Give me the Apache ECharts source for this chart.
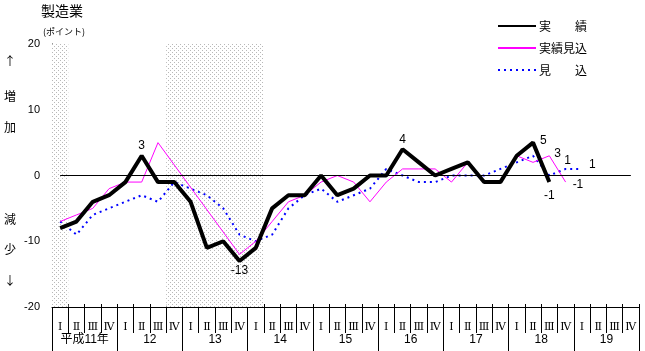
<!DOCTYPE html>
<html><head><meta charset="utf-8">
<script src="https://cdn.jsdelivr.net/npm/echarts@6/dist/echarts.min.js"></script>
<style>html,body{margin:0;padding:0;background:#fff}#c{width:645px;height:351px}</style>
</head><body><div id="c"></div>
<script>
// ---- data ----
const yearLabels = ['平成11年','12','13','14','15','16','17','18','19'];
const quarterLabels = ['Ⅰ','Ⅱ','Ⅲ','Ⅳ'];
const seriesNames = ['実　　績','実績見込','見　　込'];
const actual   = [-8,-7,-4,-3,-1,3,-1,-1,-4,-11,-10,-13,-11,-5,-3,-3,0,-3,-2,0,0,4,2,0,1,2,-1,-1,3,5,-1];
const estimate = [-7,-6,-5,-2,-1,-1,5,null,null,null,null,-12,-10,-7,-4,-3,-1,0,-1,-4,-1,1,1,1,-1,2,-1,-1,3,2,3,-1];
const forecast = [-7,-9,-6,-5,-4,-3,-4,-1,-2,-3,-5,-9,-10,-9,-5,-3,-2,-4,-3,-2,1,0,-1,-1,0,0,0,1,2,3,0,1,1];
const shadedRanges = [[0,1],[7,13]]; // in quarter units from start
const labelledActual = [5,11,21,29,30];
const labelledEstimate = [30,31];
const labelledForecast = [31,32];

// ---- styles ----
const labelPos = {
  actual:   {5:{position:'top',distance:4},11:{position:'bottom',distance:4},21:{position:'top',distance:4},29:{position:'right',offset:[2,-2]},30:{position:'bottom',distance:8}},
  estimate: {30:{position:'right',offset:[0,-2]},31:{position:'right',offset:[2,3]}},
  forecast: {31:{position:'top',distance:3,offset:[2,1]},32:{position:'right',offset:[2,-4]}}
};
const FONT = '"Liberation Sans","Noto Sans CJK JP",sans-serif';
function withLabels(arr, idxs, pos){
  return arr.map((v,i)=> idxs.includes(i) ? {value:v, label:Object.assign({show:true,color:'#000',fontSize:12,fontFamily:FONT}, pos[i])} : v);
}
const quarterCats = [];
yearLabels.forEach(()=>quarterLabels.forEach(q=>quarterCats.push(q)));

// dotted pattern for shading
const pc = document.createElement('canvas'); pc.width=4; pc.height=4;
const pctx = pc.getContext('2d');
pctx.fillStyle='#ffffff'; pctx.fillRect(0,0,4,4);
pctx.fillStyle='#b8b8b8'; pctx.fillRect(0,0,1,1); pctx.fillRect(2,2,1,1);

const chart = echarts.init(document.getElementById('c'), null, {renderer:'canvas'});
const lineCommon = {type:'line',xAxisIndex:0,symbol:'circle',symbolSize:0,showSymbol:true,showAllSymbol:true};
chart.setOption({
  animation:false,
  textStyle:{fontFamily:FONT,color:'#000'},
  grid:{left:52,right:6,top:44,bottom:44,containLabel:false},
  legend:{
    orient:'vertical', left:497, top:19, padding:0, itemWidth:38, itemHeight:14, itemGap:8,
    itemStyle:{opacity:0},
    textStyle:{fontSize:12,color:'#000',fontFamily:'"Noto Sans CJK JP"',lineHeight:14,padding:[0,0,0,-2]},
    data:[seriesNames[0],seriesNames[1],seriesNames[2]]
  },
  graphic:[
    {type:'text',left:41,top:4,style:{text:'製造業',font:'14px "Noto Sans CJK JP"',fill:'#000'}},
    {type:'text',left:43,top:27,style:{text:'(ポイント)',font:'9px "Noto Sans CJK JP"',fill:'#000'}},
    {type:'text',left:4,top:55,style:{text:'↑',font:'12px "Noto Sans CJK JP"',fill:'#000'}},
    {type:'text',left:4,top:90,style:{text:'増',font:'12px "Noto Sans CJK JP"',fill:'#000'}},
    {type:'text',left:4,top:121,style:{text:'加',font:'12px "Noto Sans CJK JP"',fill:'#000'}},
    {type:'text',left:4,top:213,style:{text:'減',font:'12px "Noto Sans CJK JP"',fill:'#000'}},
    {type:'text',left:4,top:243,style:{text:'少',font:'12px "Noto Sans CJK JP"',fill:'#000'}},
    {type:'text',left:4,top:274,style:{text:'↓',font:'12px "Noto Sans CJK JP"',fill:'#000'}}
  ],
  xAxis:[
    {type:'category',data:quarterCats,position:'bottom',boundaryGap:true,
     axisLine:{show:true,onZero:false,lineStyle:{color:'#000',width:1}},
     axisTick:{show:true,interval:0,length:26,lineStyle:{color:'#000'}},
     axisLabel:{interval:0,margin:15,fontSize:11,color:'#000',fontFamily:'"DejaVu Serif","Noto Sans CJK JP"'},
     splitLine:{show:false}},
    {type:'category',data:yearLabels,position:'bottom',boundaryGap:true,
     axisLine:{show:false,onZero:false},
     axisTick:{show:true,interval:0,length:44,lineStyle:{color:'#000'}},
     axisLabel:{interval:0,margin:27,fontSize:12,color:'#000'},
     splitLine:{show:false}},
    {type:'value',min:0,max:36,show:false,axisLine:{onZero:false}},
    {type:'category',data:quarterCats,position:'bottom',boundaryGap:true,
     axisLine:{show:false,onZero:false},axisLabel:{show:false},
     axisTick:{show:true,inside:true,interval:0,length:3,lineStyle:{color:'#000'}}}
  ],
  yAxis:{type:'value',min:-20,max:20,interval:10,
    axisLine:{show:true,onZero:false,lineStyle:{color:'#000'}},
    axisTick:{show:true,inside:true,length:5,lineStyle:{color:'#000'}},
    minorTick:{show:true,splitNumber:5,length:3,lineStyle:{color:'#000'}},
    axisLabel:{fontSize:11,color:'#000',margin:12},
    splitLine:{show:false}},
  series:[
    {type:'line',xAxisIndex:2,yAxisIndex:0,data:[],silent:true,
     markArea:{silent:true,itemStyle:{color:{image:pc,repeat:'repeat'}},
       data:shadedRanges.map(r=>[{xAxis:r[0],yAxis:-20},{xAxis:r[1],yAxis:20}])}},
    Object.assign({},lineCommon,{name:seriesNames[2],data:withLabels(forecast,labelledForecast,labelPos.forecast),
     lineStyle:{color:'#0000ff',width:2,type:[2,4]},itemStyle:{color:'#0000ff'},z:3}),
    Object.assign({},lineCommon,{name:seriesNames[1],data:withLabels(estimate,labelledEstimate,labelPos.estimate),
     connectNulls:true,lineStyle:{color:'#ff00ff',width:1},itemStyle:{color:'#ff00ff'},z:4}),
    Object.assign({},lineCommon,{name:seriesNames[0],data:withLabels(actual,labelledActual,labelPos.actual),
     lineStyle:{color:'#000',width:4},itemStyle:{color:'#000'},z:5,
     markLine:{silent:true,symbol:'none',label:{show:false},lineStyle:{color:'#000',width:1,type:'solid'},
       data:[[{coord:[0,0]},{coord:[quarterCats.length-1,0]}]]}})
  ]
});
</script></body></html>
